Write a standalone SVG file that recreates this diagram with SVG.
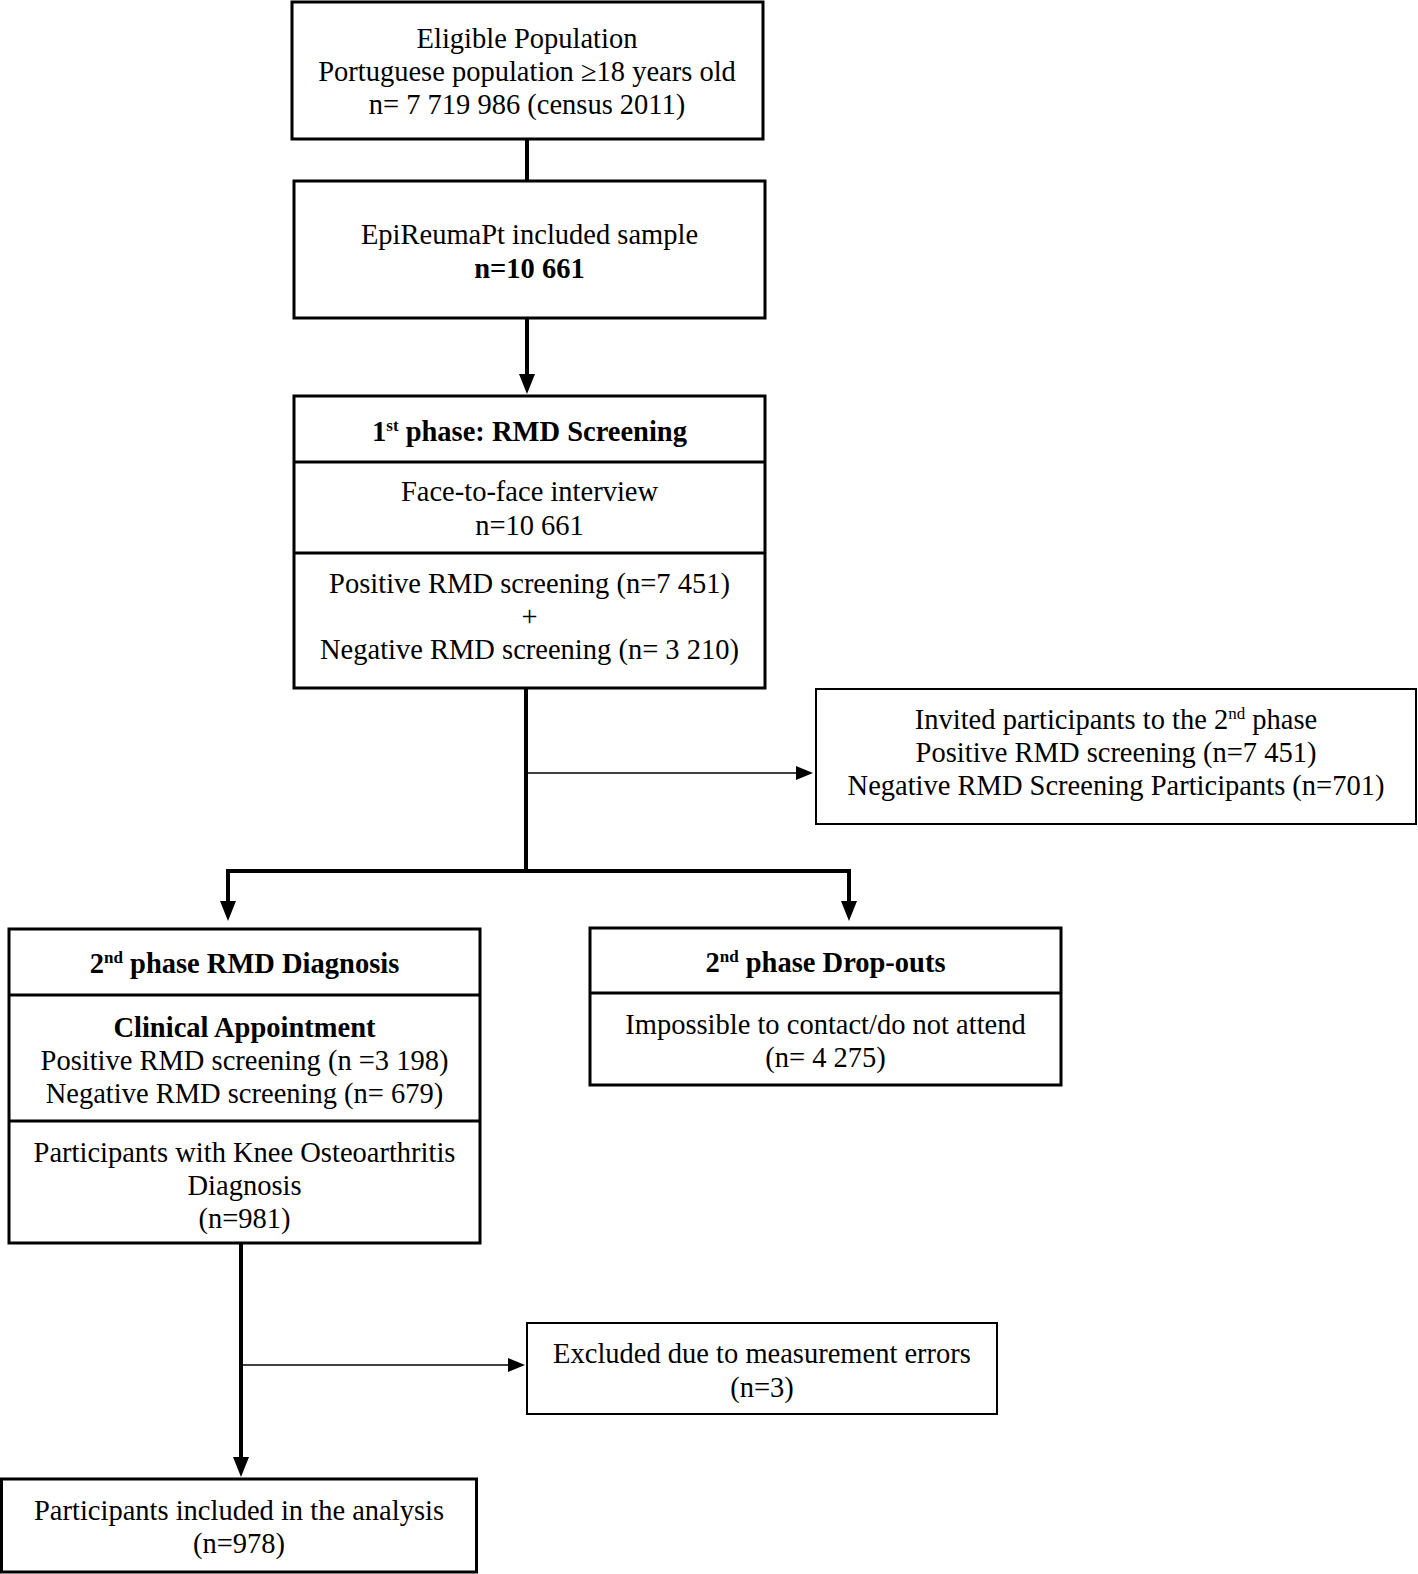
<svg xmlns="http://www.w3.org/2000/svg" width="1418" height="1574" viewBox="0 0 1418 1574">
<style>
  text { font-family: "Liberation Serif", "Times New Roman", serif; font-size: 28.5px; fill: #000; text-anchor: middle; }
  .b { font-weight: bold; }
  .sup { font-size: 17px; }
  .box { fill: #fff; stroke: #000; stroke-width: 3; }
  .thinbox { fill: #fff; stroke: #000; stroke-width: 2; }
  .div { stroke: #000; stroke-width: 3; }
  .thick { fill: none; stroke: #000; stroke-width: 4; stroke-linejoin: miter; }
  .thin { fill: none; stroke: #000; stroke-width: 1.6; }
</style>
<defs>
  <marker id="ah" viewBox="0 0 20 16" refX="8" refY="8" markerWidth="20" markerHeight="16" markerUnits="userSpaceOnUse" orient="auto-start-reverse">
    <path d="M0,0 L20,8 L0,16 Z" fill="#000"/>
  </marker>
  <marker id="ahs" viewBox="0 0 17 14" refX="7" refY="7" markerWidth="17" markerHeight="14" markerUnits="userSpaceOnUse" orient="auto">
    <path d="M0,0 L17,7 L0,14 Z" fill="#000"/>
  </marker>
</defs>
<rect width="1418" height="1574" fill="#fff"/>

<g id="connectors">
  <line class="thick" x1="527" y1="139" x2="527" y2="181"/>
  <line class="thick" x1="527" y1="318" x2="527" y2="382" marker-end="url(#ah)"/>
  <line class="thick" x1="526" y1="688" x2="526" y2="873"/>
  <line class="thin" x1="526" y1="773" x2="803" y2="773" marker-end="url(#ahs)"/>
  <path class="thick" d="M228,909 V871 H849 V909" marker-start="url(#ah)" marker-end="url(#ah)"/>
  <line class="thick" x1="241" y1="1243" x2="241" y2="1465" marker-end="url(#ah)"/>
  <line class="thin" x1="241" y1="1365" x2="515" y2="1365" marker-end="url(#ahs)"/>
</g>

<g id="eligible">
  <rect class="box" x="292" y="2" width="471" height="137"/>
  <text x="527" y="48">Eligible Population</text>
  <text x="527" y="81">Portuguese population ≥18 years old</text>
  <text x="527" y="114">n= 7 719 986 (census 2011)</text>
</g>

<g id="sample">
  <rect class="box" x="294" y="181" width="471" height="137"/>
  <text x="529.5" y="244">EpiReumaPt included sample</text>
  <text x="529.5" y="278" class="b">n=10 661</text>
</g>

<g id="phase1">
  <rect class="box" x="294" y="396" width="471" height="292"/>
  <line class="div" x1="294" y1="462" x2="765" y2="462"/>
  <line class="div" x1="294" y1="553" x2="765" y2="553"/>
  <text x="529.5" y="441" class="b">1<tspan class="sup" dy="-10">st</tspan><tspan dy="10"> phase: RMD Screening</tspan></text>
  <text x="529.5" y="501">Face-to-face interview</text>
  <text x="529.5" y="535">n=10 661</text>
  <text x="529.5" y="593">Positive RMD screening (n=7 451)</text>
  <text x="529.5" y="626">+</text>
  <text x="529.5" y="659">Negative RMD screening (n= 3 210)</text>
</g>

<g id="invited">
  <rect class="thinbox" x="816" y="689" width="600" height="135"/>
  <text x="1116" y="729">Invited participants to the 2<tspan class="sup" dy="-10">nd</tspan><tspan dy="10"> phase</tspan></text>
  <text x="1116" y="762">Positive RMD screening (n=7 451)</text>
  <text x="1116" y="795">Negative RMD Screening Participants (n=701)</text>
</g>

<g id="phase2diag">
  <rect class="box" x="9" y="929" width="471" height="314"/>
  <line class="div" x1="9" y1="995" x2="480" y2="995"/>
  <line class="div" x1="9" y1="1121" x2="480" y2="1121"/>
  <text x="244.5" y="973" class="b">2<tspan class="sup" dy="-10">nd</tspan><tspan dy="10"> phase RMD Diagnosis</tspan></text>
  <text x="244.5" y="1037" class="b">Clinical Appointment</text>
  <text x="244.5" y="1070">Positive RMD screening (n =3 198)</text>
  <text x="244.5" y="1103">Negative RMD screening (n= 679)</text>
  <text x="244.5" y="1162">Participants with Knee Osteoarthritis</text>
  <text x="244.5" y="1195">Diagnosis</text>
  <text x="244.5" y="1228">(n=981)</text>
</g>

<g id="dropouts">
  <rect class="box" x="590" y="928" width="471" height="157"/>
  <line class="div" x1="590" y1="993" x2="1061" y2="993"/>
  <text x="825.5" y="972" class="b">2<tspan class="sup" dy="-10">nd</tspan><tspan dy="10"> phase Drop-outs</tspan></text>
  <text x="825.5" y="1034">Impossible to contact/do not attend</text>
  <text x="825.5" y="1067">(n= 4 275)</text>
</g>

<g id="excluded">
  <rect class="thinbox" x="527" y="1323" width="470" height="91"/>
  <text x="762" y="1363">Excluded due to measurement errors</text>
  <text x="762" y="1397">(n=3)</text>
</g>

<g id="included">
  <rect class="box" x="1.5" y="1479" width="475" height="93"/>
  <text x="239" y="1520">Participants included in the analysis</text>
  <text x="239" y="1553">(n=978)</text>
</g>
</svg>
